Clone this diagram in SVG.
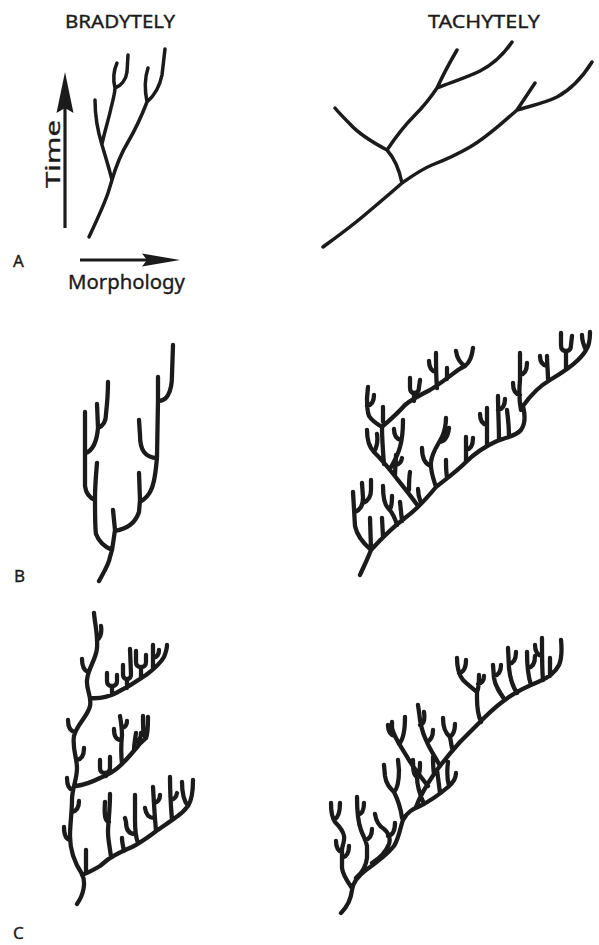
<svg xmlns="http://www.w3.org/2000/svg" width="599" height="945" viewBox="0 0 599 945">
<style>
.t{fill:none;stroke:#1b1b1b;stroke-width:4.3;stroke-linecap:round;stroke-linejoin:round}
.a{fill:none;stroke:#1b1b1b;stroke-width:3.5;stroke-linecap:round;stroke-linejoin:round}
.ax{fill:none;stroke:#1b1b1b;stroke-width:3.2}
.hd{fill:#1b1b1b}
text{font-family:"Noto Sans","Liberation Sans",sans-serif;fill:#1b1b1b;stroke:#1b1b1b;stroke-width:0.35}
.h{font-size:18px}
.l{font-size:20px}
.p{font-size:17px}
</style>
<rect width="599" height="945" fill="#ffffff"/>
<g id="labels">
<text class="h" x="65" y="28" textLength="110" lengthAdjust="spacingAndGlyphs">BRADYTELY</text>
<text class="h" x="428" y="28" textLength="112" lengthAdjust="spacingAndGlyphs">TACHYTELY</text>
<text class="l" transform="translate(60,188) rotate(-90)" textLength="68" lengthAdjust="spacingAndGlyphs">Time</text>
<text class="l" x="68" y="289" textLength="117" lengthAdjust="spacingAndGlyphs">Morphology</text>
<text class="p" x="13" y="267">A</text>
<text class="p" x="14" y="582">B</text>
<text class="p" x="13" y="939">C</text>
</g>
<g id="axes">
<line class="ax" x1="65" y1="228" x2="65" y2="106"/>
<polygon class="hd" points="65,72 73.5,113 65,108 56.5,113"/>
<line class="ax" x1="80" y1="260" x2="148" y2="260"/>
<polygon class="hd" points="180,260 142,253.5 147,260 142,266.5"/>
</g>
<g id="a-bradytely">
<path class="a" d="M89,237 C96,222 104,205 108,193 C110,187 111,183 112,180 M112,180 C109,168 105,155 102,145 C98,132 95,118 95,100 M102,144 C105,130 109,118 111,108 C113,100 115,93 115,88 M115,88 C113,80 113,72 117,63 M115,88 C121,86 126,80 127,72 L128,55 M112,180 C116,166 122,152 128,142 C135,130 142,115 147,102 M147,102 C145,92 144,80 148,68 M147,102 C155,95 160,85 162,75 L165,49"/>
</g>
<g id="a-tachytely">
<path class="a" d="M323,247 C338,236 352,226 367,213 C380,202 392,192 402,183 M402,183 C400,173 396,160 387,150 M387,150 C372,142 358,133 350,124 C344,118 339,113 335,108 M387,150 C395,138 405,125 415,115 C424,106 431,97 437,88 M437,88 C443,75 450,62 457,50 M437,88 C452,82 468,77 480,71 C492,65 502,57 512,42 M402,183 C412,176 422,169 432,165 C445,160 458,154 470,147 C486,138 500,125 517,110 M517,110 C523,101 529,92 535,83 M517,110 C530,106 545,103 557,97 C570,90 582,78 592,62"/>
</g>
<g id="b-bradytely">
<path class="t" d="M99,581 C104,572 109,564 110,557 L112,550 M112,550 C105,547 99,542 96,534 C95,528 95,515 95,498 C95,485 96,475 97,463 M95,500 C90,498 86,494 85,486 L85,412 M86,453 C93,450 97,440 98,428 L97,404 M98,428 C103,426 106,421 106,414 C107,405 108,395 108,382 M112,550 C113,544 114,537 115,530 L113,510 M115,531 C120,530 126,528 130,525 C134,522 137,518 139,512 L140,500 L139,473 M140,502 C145,499 149,495 151,490 C154,484 156,470 157,457 L158,400 L158,377 M157,458 C152,458 147,456 144,452 C141,448 140,443 140,435 L139,420 M158,401 C163,401 166,399 168,395 C171,390 172,384 172,375 L173,345"/>
</g>
<g id="b-tachytely">
<path class="t" d="M360,575 C364,566 368,558 371,550 C381,539 393,527 405,518 C416,510 427,498 436,487 C446,479 456,472 466,462 C476,452 486,446 497,441 C507,437 516,436 521,430 C526,423 525,414 523,406 C530,396 538,387 550,380 C560,374 570,368 578,360 C583,355 585,352 586,350
M586,350 C584,346 582,342 582,335 M586,350 C589,346 590,340 590,332
M371,550 C363,543 357,536 355,526 L353,492 M355,512 C360,510 363,505 363,498 L362,483 M363,503 C368,501 371,497 371,490 L371,480 M371,549 L370,518 M383,537 L382,518
M397,525 C395,518 392,512 388,508 C384,504 383,497 383,486 M390,509 C392,506 392,501 392,496 M402,521 L400,502 M421,503 C419,498 418,494 418,489
M418,506 C411,496 402,485 394,475 C387,466 380,458 374,452 C369,447 367,440 367,430 M374,452 C377,447 378,441 377,434 M384,464 C383,452 382,440 382,427 M382,427 C377,424 372,421 369,416 C367,411 367,405 367,398 L368,387 M367,406 C372,405 374,401 374,395 M383,422 L383,407
M382,427 C390,420 398,413 405,405 C412,399 420,395 430,390 C440,384 450,376 458,370 C461,368 463,367 465,366
M465,366 C460,363 457,358 456,351 M465,366 C469,363 472,357 473,348
M414,401 L414,393 M410,378 L410,387 Q410,393 414,393 Q419,393 419,387 L420,380 M437,388 C436,378 436,365 436,353 M436,372 C431,371 429,367 429,361 M447,379 C447,375 447,372 447,368
M395,476 C395,468 396,462 396,455 M396,465 Q401,464 402,458 M409,490 C409,484 409,478 410,472 M390,469 C394,462 398,455 400,447 C402,440 403,430 403,420 M401,440 C396,439 394,435 394,429
M436,487 C433,478 430,470 431,462 C432,452 438,445 442,437 C445,430 446,425 446,418 M431,466 C425,464 422,458 422,448 M440,442 C446,441 448,436 449,428 M447,477 C446,472 446,466 446,460
M466,462 L466,437 M466,450 C471,449 473,445 473,438 M487,446 C487,432 487,420 487,408 M487,425 C482,424 480,420 480,414 M499,440 C499,425 498,410 498,396 M498,410 C503,409 505,405 505,399 M509,437 C509,428 508,418 507,410
M521,410 C519,400 519,390 520,380 L520,353 M520,375 C525,374 527,370 527,363 M520,395 C515,394 513,390 513,383
M548,379 C548,372 547,364 547,356 M547,366 C542,365 540,361 540,356 M566,368 L566,352 M561,333 L561,345 Q561,351 566,351 Q571,351 571,345 L572,336"/>
</g>
<g id="c-bradytely">
<path class="t" d="M94,613 C95,625 98,635 97,648 C96,660 88,668 87,680 C86,690 92,696 90,706 C88,716 77,724 74,736 C72,748 77,758 77,768 C77,780 72,788 72,800 C72,812 70,824 70,836 C70,850 74,862 82,874 C86,882 84,894 77,904
M97,640 C101,637 102,633 101,626 M88,672 C83,670 82,665 82,659 M75,732 C70,731 68,726 68,720 M77,760 C82,759 84,755 84,748 M73,790 C68,789 67,784 67,778 M72,812 C77,811 79,807 79,801 M70,840 C65,839 64,834 64,827
M90,698 C100,699 108,697 116,693 C126,688 136,682 146,675 C154,669 160,664 164,657 C166,652 167,648 167,645
M112,694 L112,687 M107,673 L107,681 Q107,686 112,686 Q117,686 117,681 L117,675 M127,688 L127,680 M123,665 L123,674 Q123,679 127,679 Q131,679 131,674 L130,649 M141,677 L141,668 M136,651 L136,662 Q136,667 141,667 Q146,667 146,662 L146,655 M153,669 C153,662 153,655 153,645 M153,658 C158,657 159,654 159,650
M76,786 C84,785 92,782 100,778 C108,775 116,770 122,764 C128,758 133,752 138,746 C141,742 144,740 146,738 M146,738 C143,735 143,728 143,716 M146,738 C148,734 148,728 148,717
M122,764 C121,755 121,745 122,735 C122,728 121,722 120,716 M121,740 C116,740 114,736 114,729 M122,728 Q127,727 127,721 M134,751 C134,744 135,740 136,733 M135,742 C139,741 141,738 141,733 M106,776 L105,773 M100,760 L100,768 Q100,773 105,773 Q110,773 110,767 L110,757
M82,875 C90,872 95,869 100,866 C105,862 108,859 112,857 C118,853 125,850 132,847 C140,843 148,837 155,832 C162,827 168,823 175,818 C181,814 185,810 188,806
M188,806 C184,801 182,794 182,782 M188,806 C192,800 193,792 193,780
M86,873 L86,850 M111,857 C110,848 108,840 108,832 C108,822 110,812 110,794 M109,822 C105,821 104,816 105,802 M138,843 C136,838 135,832 135,820 L135,795 M135,834 C129,834 126,830 126,822 L125,818 M156,831 C155,820 154,805 153,787 M154,818 C149,818 146,815 145,808 M154,803 C158,802 160,799 160,795 M172,820 C171,808 170,795 170,777 M171,800 Q176,799 177,793 M124,851 C123,846 122,842 122,838"/>
</g>
<g id="c-tachytely">
<path class="t" d="M341,913 C347,907 351,899 352,890 C353,882 358,876 366,870 C376,863 386,856 394,846 C399,838 400,828 403,820 C407,812 413,809 420,806 C430,801 440,794 448,787 C453,783 456,779 456,773 M449,786 C447,779 447,770 448,762 M440,793 C439,785 438,777 437,770
M352,888 C348,882 343,876 342,868 L342,850 C342,845 345,842 344,836 C343,830 339,826 335,822 C332,818 331,812 331,803 M334,820 C338,818 340,812 340,803 M342,858 C346,857 349,853 349,846 M342,852 C338,851 336,847 336,841
M356,878 C362,873 366,866 367,858 L367,846 C366,840 363,836 361,830 C358,822 357,812 357,797 M358,815 C362,814 364,810 364,803 M365,840 C370,839 372,835 372,829
M372,863 C380,858 386,852 389,844 C391,838 388,832 384,829 C379,826 376,821 375,814 M388,836 C393,835 395,830 395,823
M402,818 C401,810 398,800 394,792 C390,788 386,784 385,776 L384,765 M394,792 C398,788 399,780 399,770 L398,760
M424,804 C420,795 417,787 417,777 M417,777 C413,775 413,768 413,760 M417,777 C420,774 420,769 420,763
M416,807 C420,796 426,786 434,774 C442,763 451,752 460,742 C468,734 476,726 484,718 C492,710 500,703 509,697 C518,691 528,686 538,682 C548,678 555,673 559,665 C562,658 562,650 561,640 M434,774 C433,768 433,762 433,757
M428,786 C420,776 412,766 406,755 C400,745 394,737 392,728 L392,722 M399,744 C403,740 405,730 405,717 M395,736 C390,735 388,731 388,725
M440,766 C436,758 430,750 426,740 C422,732 420,722 419,712 L418,705 M420,725 C424,724 425,719 424,712 M427,742 C431,740 433,736 433,730
M452,748 L450,737 M450,737 C445,733 443,726 443,718 M450,737 C454,734 455,730 455,724
M481,722 C478,715 477,708 477,698 L477,692 M477,692 C472,688 467,684 463,680 C459,675 457,668 457,658 M477,692 C479,688 479,682 479,675 M459,673 C464,672 466,668 466,660 M478,684 C482,683 484,680 484,676
M505,700 C500,693 495,686 494,678 L493,665 M517,693 C513,687 510,678 509,668 L508,648 M494,676 C499,675 501,671 501,665 M509,664 C514,663 516,659 516,652
M531,685 C528,676 527,665 527,652 M543,680 C542,670 542,655 542,638 M528,668 C533,667 535,663 535,656 M542,656 C537,655 535,651 535,645 M550,676 C550,670 550,664 550,658"/>
</g>
</svg>
